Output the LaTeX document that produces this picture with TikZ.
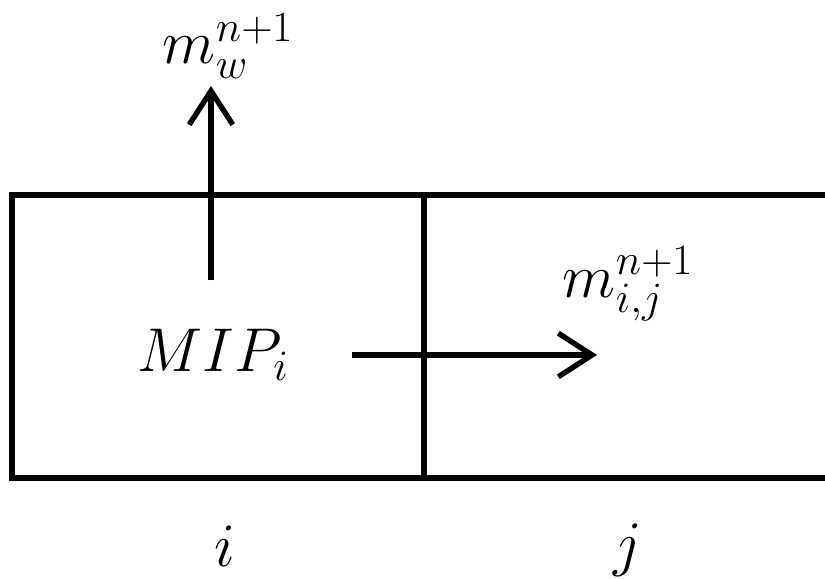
\RequirePackage{fix-cm}
\documentclass[tikz,border=0pt]{standalone}
\usepackage{tikz}
\usetikzlibrary{arrows.meta,positioning}

\begin{document}
\begin{tikzpicture}[x=0.025cm,y=-0.025cm,line width=3.8pt,
  cellbox/.style={draw,minimum width=412*0.025cm,minimum height=283*0.025cm,inner sep=0pt},
  lbl/.style={font=\fontsize{44}{52}\selectfont,inner sep=0pt},
  flow/.style={-{Straight Barb[length=24pt,width=31pt,line width=3.8pt]}}]
\clip (0,0) rectangle (825,579);
% cells
\node[cellbox] (celli) at (218,336.5) {};
\node[cellbox,right=-3.8pt of celli] (cellj) {};
\node[lbl] (mip) at (213,355) {$MIP_i$};
\node[lbl] at (225,546) (labi) {$i$};
\node[lbl] at (628,550) (labj) {$j$};
% messages
\node[lbl] (mw) at (228,46) {$m_w^{n+1}$};
\node[lbl] (mij) at (628,284) {$m_{i,j}^{n+1}$};
\coordinate (vstart) at (211,280);
\coordinate (vend) at (211,86);
\coordinate (hstart) at (352,355);
\coordinate (hend) at (597,355);
\draw[flow] (vstart) -- (vend);
\draw[flow] (hstart) -- (hend);
\end{tikzpicture}
\end{document}
